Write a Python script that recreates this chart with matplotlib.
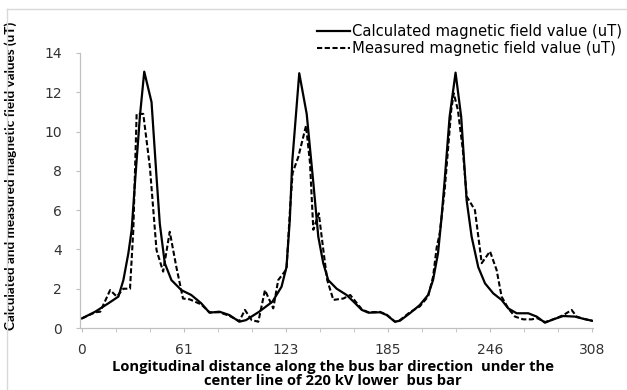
import matplotlib
matplotlib.use("Agg")
import matplotlib.pyplot as plt
from matplotlib.lines import Line2D

# distance along bus bar (m) and calculated field (uT)
x_calc = [0, 8, 16, 22, 25, 28, 30, 32, 35, 37.6,
          42, 45, 47, 50, 54, 60, 66, 72, 77, 83,
          89, 95, 99, 107, 115, 120.5, 123.5, 125.5, 127, 131.2,
          135.7, 139.7, 142.7, 145.7, 148.7, 153.8, 159.8, 164, 169, 173,
          180, 184, 189, 192, 198, 204, 209, 212, 215, 217,
          219, 222, 225.6, 229, 232.3, 235.3, 239.3, 243.4, 248.4, 253.4,
          257.4, 262.5, 269.5, 274.6, 279.6, 284.6, 290.6, 297.7, 302.7, 308]
y_calc = [0.49, 0.83, 1.26, 1.6, 2.44, 3.8, 5.0, 7.4, 10.8, 13.05,
          11.5, 7.7, 5.3, 3.3, 2.44, 1.93, 1.68, 1.26, 0.78, 0.83,
          0.66, 0.32, 0.4, 0.83, 1.34, 2.1, 3.1, 5.5, 8.5, 12.97,
          10.9, 7.4, 4.65, 3.3, 2.44, 2.0, 1.68, 1.34, 0.92, 0.78,
          0.8, 0.66, 0.32, 0.37, 0.75, 1.17, 1.68, 2.44, 3.8, 5.5,
          7.5, 10.75, 13.0, 10.75, 6.5, 4.65, 3.1, 2.27, 1.76, 1.43,
          1.0, 0.75, 0.75, 0.58, 0.27, 0.44, 0.61, 0.58, 0.47, 0.37]

# measured field (uT)
x_meas = [0, 8, 11, 17, 21, 25, 29, 31, 33, 37,
          41, 45, 49, 53, 57, 61, 65, 72, 77, 83,
          89, 95, 98.4, 102.5, 106.5, 110.5, 115.5, 118.5, 121.6, 123.5,
          125.6, 127.2, 130.6, 135.3, 137.7, 139.7, 143, 146, 148.1, 151.8,
          157.8, 162, 169, 173, 180, 184, 189, 192, 198, 204,
          209, 212, 214.2, 216, 219, 223, 224.5, 227, 230, 232.3,
          237.3, 241.4, 246.4, 250.4, 253.4, 257.4, 261.5, 266.5, 271.6, 275,
          279.6, 284.6, 290.6, 295.7, 298.7, 302.7, 308]
y_meas = [0.49, 0.8, 0.83, 1.93, 1.6, 2.0, 2.0, 5.0, 10.9, 10.9,
          8.2, 3.97, 2.87, 4.9, 3.1, 1.5, 1.46, 1.2, 0.8, 0.8,
          0.62, 0.35, 0.92, 0.4, 0.32, 1.93, 1.0, 2.44, 2.78, 3.0,
          6.0, 7.9, 8.7, 10.3, 8.4, 5.0, 5.84, 3.8, 2.44, 1.43,
          1.5, 1.68, 0.95, 0.8, 0.82, 0.68, 0.32, 0.4, 0.8, 1.1,
          1.6, 2.6, 4.1, 4.8, 7.0, 11.1, 11.95, 11.1, 9.06, 6.7,
          6.0, 3.3, 3.9, 2.95, 1.6, 1.0, 0.58, 0.44, 0.44, 0.5,
          0.3, 0.44, 0.65, 0.92, 0.58, 0.47, 0.37]

tick_pos = [0, 61.6, 123.2, 184.8, 246.4, 308]
tick_labels = ["0", "61", "123", "185", "246", "308"]

plt.rcParams["font.family"] = ["DejaVu Sans"]

fig = plt.figure(figsize=(6.27, 3.90), dpi=100)
ax = fig.add_axes([80 / 627, 62 / 390, 513 / 627, 275 / 390])

ax.plot(x_calc, y_calc, color="black", lw=1.6, label="Calculated magnetic field value (uT)")
ax.plot(x_meas, y_meas, color="black", lw=1.5, linestyle=(0, (2.5, 1.2)),
        label="Measured magnetic field value (uT)")

ax.set_xlim(-1.2, 308.6)
ax.set_ylim(0, 14)
ax.set_yticks(range(0, 15, 2))

minor = [i * 308 / 15 for i in range(16)]
ax.set_xticks(minor, minor=True)
ax.set_xticks(tick_pos)
ax.set_xticklabels(tick_labels)

for s in ["top", "right"]:
    ax.spines[s].set_visible(False)
for s in ["left", "bottom"]:
    ax.spines[s].set_color("#c0c0c0")
    ax.spines[s].set_linewidth(0.9)

ax.tick_params(axis="y", direction="out", length=3, color="#c0c0c0", pad=10, labelsize=10, labelcolor="#333333")
ax.tick_params(axis="x", which="both", direction="out", length=3, color="#c0c0c0", pad=7.5, labelsize=10, labelcolor="#333333")

ax.set_ylabel("Calculated and measured magnetic field values (uT)", family=["Lato", "DejaVu Sans"],
              fontsize=9.7, fontweight="bold")
ax.yaxis.set_label_coords(-0.123, 0.555)
ax.set_xlabel("Longitudinal distance along the bus bar direction  under the\ncenter line of 220 kV lower  bus bar",
              family=["Open Sans", "DejaVu Sans"], fontsize=10.6, fontweight="bold", linespacing=0.95)
ax.xaxis.set_label_coords(0.493, -0.118)

ax.legend(loc="upper right", bbox_to_anchor=(622 / 627, 1 - 24 / 390), bbox_transform=fig.transFigure,
          frameon=False, fontsize=10.6, handlelength=2.2, handletextpad=0.15, labelspacing=0.12,
          borderpad=0, borderaxespad=0)

# chart area border
fig.add_artist(Line2D([7 / 627, 1.0], [1 - 9 / 390, 1 - 9 / 390], transform=fig.transFigure, color="#d9d9d9", lw=1))
fig.add_artist(Line2D([7 / 627, 7 / 627], [0, 1 - 9 / 390], transform=fig.transFigure, color="#d9d9d9", lw=1))

fig.savefig("out.png", dpi=100)
